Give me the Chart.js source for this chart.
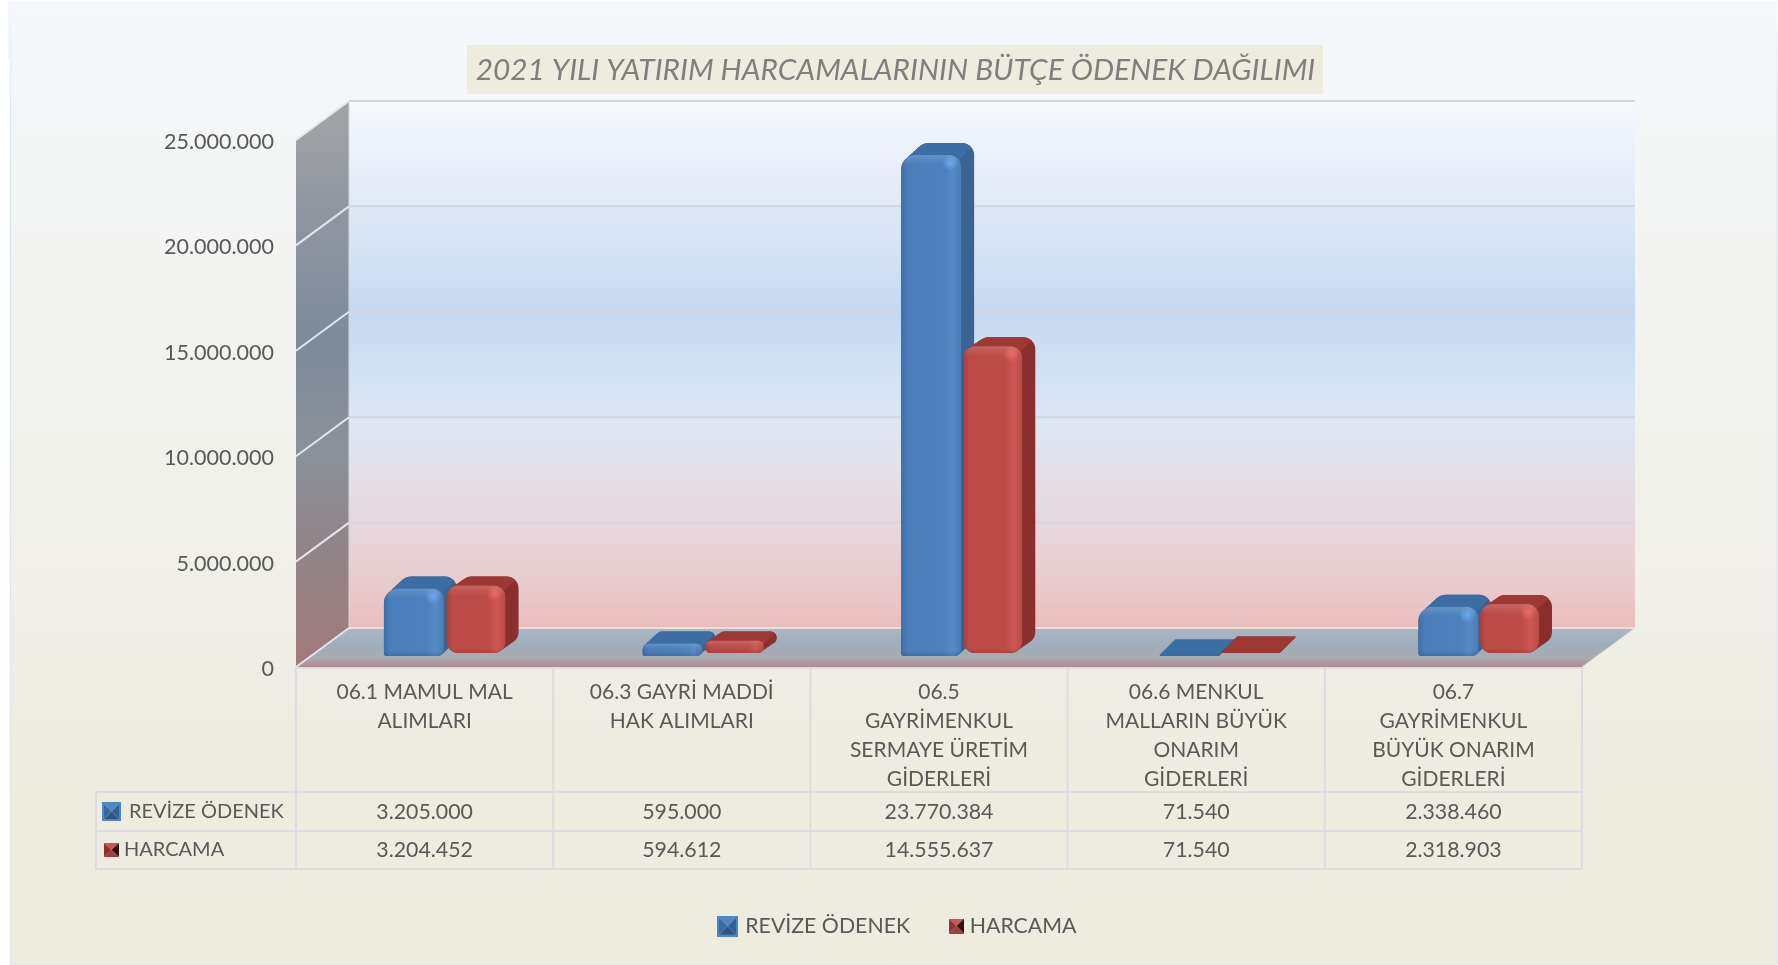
<!DOCTYPE html>
<html lang="tr">
<head>
<meta charset="utf-8">
<title>2021 Yılı Yatırım Harcamaları</title>
<script src="https://cdn.jsdelivr.net/npm/chart.js@4"></script>
<style>html,body{margin:0;padding:0;background:#fff;overflow:hidden}canvas{display:block}</style>
</head>
<body>
<canvas id="c" width="1778" height="965"></canvas>
<script>
const titleText = '2021 YILI YATIRIM HARCAMALARININ BÜTÇE ÖDENEK DAĞILIMI';
const categories = [
  ['06.1 MAMUL MAL', 'ALIMLARI'],
  ['06.3 GAYRİ MADDİ', 'HAK ALIMLARI'],
  ['06.5', 'GAYRİMENKUL', 'SERMAYE ÜRETİM', 'GİDERLERİ'],
  ['06.6 MENKUL', 'MALLARIN BÜYÜK', 'ONARIM', 'GİDERLERİ'],
  ['06.7', 'GAYRİMENKUL', 'BÜYÜK ONARIM', 'GİDERLERİ']
];
const seriesNames = ['REVİZE ÖDENEK', 'HARCAMA'];
const revizeOdenek = [3205000, 595000, 23770384, 71540, 2338460];
const harcama = [3204452, 594612, 14555637, 71540, 2318903];

const FONT = 'Lato, Carlito, sans-serif';
const TEXT = '#595959';
const fmt = v => String(v).replace(/\B(?=(\d{3})+(?!\d))/g, '.');

const DEPTH = {dx: 53, dy: 39};
const skins = [
  {front: ['#3f6fa8', '#4a7dba', '#4d80bd', '#5789c6', '#4a7cb4'], side: '#3a6491', top: '#3b6ea5', spot: '110,170,240', rad: [15, 12, 6, 3], baseLift: 11, slope: 0.0055, trim: 0, tallDy: 12},
  {front: ['#a83f3c', '#bc4b48', '#be4d4a', '#cd5753', '#bb4a46'], side: '#8a2f2d', top: '#9e3835', spot: '235,110,100', rad: [12, 12, 12, 12], baseLift: 14, slope: 0.0045, trim: 1, tallDy: 9}
];

function makeKey(w, h, pad, c) {
  const cv = document.createElement('canvas');
  cv.width = w + pad; cv.height = h;
  const g = cv.getContext('2d');
  const tri = (pts, col) => {
    g.beginPath(); pts.forEach((p, i) => i ? g.lineTo(pad + p[0], p[1]) : g.moveTo(pad + p[0], p[1]));
    g.closePath(); g.fillStyle = col; g.fill();
  };
  const m = [w / 2, h / 2];
  tri([[0, 0], [w, 0], m], c[0]);
  tri([[w, 0], [w, h], m], c[1]);
  tri([[w, h], [0, h], m], c[2]);
  tri([[0, h], [0, 0], m], c[3]);
  if (c[4]) { g.strokeStyle = c[4]; g.lineWidth = 2; g.strokeRect(pad + 1, 1, w - 2, h - 2); }
  return cv;
}
const legendKeys = [
  makeKey(21, 21, 0, ['#4f86c8', '#2f5f94', '#2c5484', '#37689f', '#4f86c8']),
  makeKey(15, 15, 9, ['#cf5450', '#2c1212', '#a33c3a', '#8c3231', null])
];
const tableKeys = [
  makeKey(19, 19, 0, ['#4f86c8', '#2f5f94', '#2c5484', '#37689f', '#4f86c8']),
  makeKey(15, 14, 0, ['#cf5450', '#2c1212', '#a33c3a', '#8c3231', null])
];

function poly(ctx, pts) {
  ctx.beginPath();
  pts.forEach((p, i) => i ? ctx.lineTo(p[0], p[1]) : ctx.moveTo(p[0], p[1]));
  ctx.closePath();
}
function line(ctx, x0, y0, x1, y1, col, w) {
  ctx.strokeStyle = col; ctx.lineWidth = w;
  ctx.beginPath(); ctx.moveTo(x0, y0); ctx.lineTo(x1, y1); ctx.stroke();
}
function vGrad(ctx, y0, y1, stops) {
  const g = ctx.createLinearGradient(0, y0, 0, y1);
  stops.forEach(s => g.addColorStop(s[0], s[1]));
  return g;
}

function drawBar3D(ctx, a, bar, skin) {
  const w = bar.width - skin.trim;
  const shift = 20 + (bar.x - a.left) * skin.slope;
  const x0 = bar.x - bar.width / 2 + shift, x1 = x0 + w;
  const bot = bar.base - skin.baseLift;
  const top = bar.y - skin.baseLift;
  const h = bot - top;
  const flat = h < 5;
  const maxR = Math.min(h / 2, w / 2);
  const rad = skin.rad.map(r => Math.min(r, maxR));
  const Dx = flat ? 15 : 13, Dy = flat ? 15 : skin.tallDy, n = 15;
  ctx.save();
  ctx.beginPath();
  for (let i = 0; i <= n; i++) {
    ctx.roundRect(x0 + Dx * i / n, top - Dy * i / n, w, h, h > 10 ? rad.map(r => Math.max(r, 3)) : Math.max(2, maxR));
  }
  ctx.clip();
  ctx.fillStyle = skin.side; ctx.fillRect(x0 - 2, top - Dy - 2, w + Dx + 4, h + Dy + 4);
  poly(ctx, [[x0 - 4, top + 1], [x1 - 2, top + 1 + (h > 10 ? 4 : 0)], [x1 + Dx + 2, top - Dy - 1], [x0 + Dx - 4, top - Dy - 1]]);
  ctx.fillStyle = skin.top; ctx.fill();
  ctx.restore();
  if (h > 3) {
    ctx.save();
    ctx.beginPath(); ctx.roundRect(x0, top, w, h, rad); ctx.clip();
    const g = ctx.createLinearGradient(x0, 0, x1, 0);
    g.addColorStop(0, skin.front[0]); g.addColorStop(0.1, skin.front[1]); g.addColorStop(0.72, skin.front[2]);
    g.addColorStop(0.86, skin.front[3]); g.addColorStop(1, skin.front[4]);
    ctx.fillStyle = g; ctx.fillRect(x0, top, w, h);
    const sheen = Math.min(10, h / 2);
    const tg = ctx.createLinearGradient(0, top, 0, top + sheen);
    tg.addColorStop(0, 'rgba(255,255,255,.14)'); tg.addColorStop(1, 'rgba(255,255,255,0)');
    ctx.fillStyle = tg; ctx.fillRect(x0, top, w, sheen);
    const bg = ctx.createLinearGradient(0, bot - 5, 0, bot);
    bg.addColorStop(0, 'rgba(0,0,0,0)'); bg.addColorStop(1, 'rgba(0,0,0,.12)');
    ctx.fillStyle = bg; ctx.fillRect(x0, bot - 5, w, 5);
    if (h > 20) {
      const sx = x1 - 11, sy = top + 8;
      const sp = ctx.createRadialGradient(sx, sy, 0, sx, sy, 8);
      sp.addColorStop(0, 'rgba(' + skin.spot + ',.95)'); sp.addColorStop(1, 'rgba(' + skin.spot + ',0)');
      ctx.fillStyle = sp; ctx.fillRect(sx - 8, sy - 8, 16, 16);
    }
    ctx.restore();
  }
}

let labelsNudged = false;
const scenePlugin = {
  id: 'scene',
  afterLayout(chart) {
    chart.legend.left = 215;
    chart.titleBlock.left = 209;
  },
  beforeDraw(chart) {
    const {ctx, chartArea: a, scales: {x, y}} = chart;
    const W = chart.width, H = chart.height;
    if (!labelsNudged) {
      y.getLabelItems(a).forEach(it => { it.options.translation[1] += 2; });
      labelsNudged = true;
    }
    ctx.save();
    ctx.fillStyle = '#ffffff'; ctx.fillRect(0, 0, W, H);
    ctx.fillStyle = vGrad(ctx, 0, H, [[0, '#f5f8fc'], [0.3, '#f3f4f1'], [0.62, '#f0efe8'], [0.82, '#eeecdf'], [1, '#eeecdf']]);
    ctx.fillRect(8, 1, W - 9, H - 2);
    const edge = vGrad(ctx, 0, 120, [[0, 'rgba(219,230,245,0)'], [1, '#dbe6f5']]);
    line(ctx, 10.5, 0, 10.5, H - 1, edge, 1.5);
    line(ctx, W - 1, 0, W - 1, H - 1, edge, 1.5);
    ctx.fillStyle = '#ffffff'; ctx.fillRect(0, 60, 9.8, H);
    line(ctx, 10, H - 0.5, W - 1, H - 0.5, '#e3e6ea', 1);
    ctx.fillStyle = '#eeecdf'; ctx.fillRect(467, 45, 856, 49);

    const L = a.left, R = a.right, T = a.top, B = a.bottom;
    const d = DEPTH;
    ctx.fillStyle = vGrad(ctx, T - d.dy, B - d.dy, [
      [0, '#f7f9fc'], [0.03, '#f3f6fd'], [0.2, '#dfe9f6'], [0.4, '#c6d9f2'],
      [0.56, '#d6e4f5'], [0.61, '#dde7f3'], [0.7, '#e3e0e8'], [0.82, '#e8d5db'], [0.93, '#e9c9ca'], [1, '#ebbdbb']
    ]);
    ctx.fillRect(L + d.dx, T - d.dy, R - L, B - T);
    poly(ctx, [[L, T], [L + d.dx, T - d.dy], [L + d.dx, B - d.dy], [L, B]]);
    ctx.fillStyle = vGrad(ctx, T - d.dy, B, [
      [0, '#a4a4a6'], [0.2, '#8f96a0'], [0.42, '#7e8b99'], [0.62, '#8b9199'], [0.8, '#918488'], [1, '#a27a7a']
    ]);
    ctx.fill();
    poly(ctx, [[L, B], [L + d.dx, B - d.dy], [R + d.dx, B - d.dy], [R, B]]);
    ctx.fillStyle = vGrad(ctx, B - d.dy, B, [[0, '#aab7c4'], [0.45, '#9fadbb'], [0.75, '#aaabb1'], [1, '#b08b90']]);
    ctx.fill();
    line(ctx, L + d.dx, B - d.dy, R + d.dx, B - d.dy, '#e6e2da', 2);
    line(ctx, L, B, L + d.dx, B - d.dy, '#e2e4e6', 2);
    line(ctx, L + d.dx, T - d.dy, L + d.dx, B - d.dy, '#d5d8dc', 1);
    line(ctx, R, B, R + d.dx, B - d.dy, '#d9dadc', 1);
    y.ticks.forEach(t => {
      if (t.value === 0) return;
      const py = y.getPixelForValue(t.value);
      line(ctx, L, py, L + d.dx, py - d.dy, '#e4e6ea', 2);
      line(ctx, L + d.dx, py - d.dy, R + d.dx, py - d.dy, '#d3d6db', 2);
    });
    const tableCol = '#dcdde0', left = 96, r1 = 792, r2 = 831, r3 = 869;
    line(ctx, L, B + 1, R + 2, B + 1, tableCol, 2);
    [r1, r2, r3].forEach(v => line(ctx, left, v, R, v, tableCol, 2));
    line(ctx, left, r1 - 1, left, r3 + 1, tableCol, 2);
    const cw = (R - L) / categories.length;
    for (let i = 0; i <= categories.length; i++) line(ctx, L + i * cw, B, L + i * cw, r3, tableCol, 2);
    ctx.fillStyle = TEXT; ctx.font = '21.3px ' + FONT; ctx.textBaseline = 'middle'; ctx.textAlign = 'center';
    categories.forEach((_, i) => {
      const cx = x.getPixelForTick(i);
      ctx.fillText(fmt(revizeOdenek[i]), cx, 812.5);
      ctx.fillText(fmt(harcama[i]), cx, 850.5);
    });
    ctx.font = '20px ' + FONT;
    ctx.textAlign = 'left';
    ctx.fillText(seriesNames[0], 129, 811.5);
    ctx.fillText(seriesNames[1], 124, 850);
    ctx.drawImage(tableKeys[0], 102, 802);
    ctx.drawImage(tableKeys[1], 104, 843);
    ctx.restore();
  },
  beforeDatasetsDraw(chart) {
    const {ctx, chartArea: a} = chart;
    skins.forEach((skin, i) => {
      chart.getDatasetMeta(i).data.forEach(bar => drawBar3D(ctx, a, bar, skin));
    });
  },
  beforeDatasetDraw() { return false; }
};

new Chart(document.getElementById('c'), {
  type: 'bar',
  plugins: [scenePlugin],
  data: {
    labels: categories,
    datasets: [
      {label: seriesNames[0], data: revizeOdenek, backgroundColor: '#4a7ebb'},
      {label: seriesNames[1], data: harcama, backgroundColor: '#be4b48'}
    ]
  },
  options: {
    responsive: false,
    animation: false,
    layout: {padding: {left: 146, right: 196, top: 0, bottom: 18.3}},
    datasets: {bar: {categoryPercentage: 0.486, barPercentage: 0.96}},
    scales: {
      x: {
        grid: {display: false, drawTicks: false},
        border: {display: false},
        ticks: {autoSkip: false, maxRotation: 0, minRotation: 0, padding: 11, color: TEXT,
                font: {family: FONT, size: 21, lineHeight: 1.38}},
        afterFit(s) { s.height = 213.4; }
      },
      y: {
        min: 0, max: 25000000,
        grid: {display: false, drawTicks: false},
        border: {display: false},
        ticks: {stepSize: 5000000, padding: 22, color: TEXT, font: {family: FONT, size: 21.5},
                callback: v => fmt(v)},
        afterFit(s) { s.width = 150; }
      }
    },
    plugins: {
      tooltip: {enabled: false},
      title: {
        display: true, text: titleText, color: '#7f7f7f',
        font: {family: FONT, size: 29.8, style: 'italic', weight: 'normal', lineHeight: 1.2},
        padding: {top: 53, bottom: 51.2}
      },
      legend: {
        position: 'bottom',
        labels: {
          color: TEXT, font: {family: FONT, size: 21.3}, usePointStyle: true, pointStyleWidth: 14, padding: 35,
          generateLabels(chart) {
            return Chart.defaults.plugins.legend.labels.generateLabels(chart).map((it, i) => ({...it, pointStyle: legendKeys[i]}));
          }
        }
      }
    }
  }
});
</script>
</body>
</html>
